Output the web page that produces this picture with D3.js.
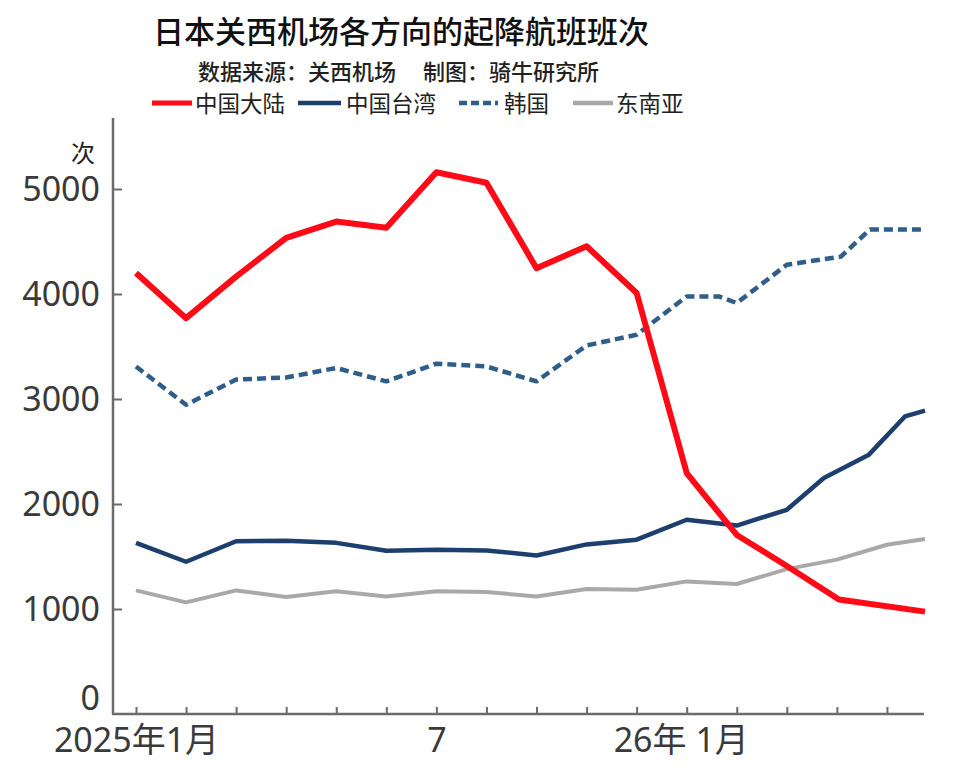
<!DOCTYPE html>
<html>
<head>
<meta charset="utf-8">
<script src="https://cdn.jsdelivr.net/npm/d3@7"></script>
<style>
  html, body { margin: 0; padding: 0; background: #ffffff; }
  svg { display: block; }
  text { font-family: "Noto Sans", "Noto Sans CJK SC", sans-serif; }
</style>
</head>
<body>
<svg id="chart" width="960" height="778"></svg>
<script>
// ---- data (x = month index, 0 = 2025-01) ----
const title = "日本关西机场各方向的起降航班班次";
const subtitle = "数据来源：关西机场　 制图：骑牛研究所";
const yUnit = "次";
const yTicks = [0, 1000, 2000, 3000, 4000, 5000];
const monthTicks = d3.range(0, 16);
const monthLabels = { 0: "2025年1月", 6: "7", 12: "26年 1月" };

const mainlandX = [0, 1, 2, 3, 4, 5, 6, 7, 8, 9, 10, 11, 12, 13, 14.04, 15.76];
const mainlandY = [4200, 3770, 4165, 4535, 4690, 4630, 5160, 5060, 4245, 4455, 4010, 2295, 1705, 1410, 1090, 975];

const taiwanX = [0, 1, 2, 3, 4, 5, 6, 7, 8, 9, 10, 11, 12, 13, 13.74, 14.64, 15.36, 15.76];
const taiwanY = [1630, 1450, 1645, 1650, 1630, 1555, 1565, 1558, 1510, 1615, 1660, 1850, 1795, 1945, 2248, 2470, 2834, 2890];

const koreaX = [0, 1, 2, 3, 4, 5, 6, 7, 8, 9, 10, 11, 11.64, 12, 13, 14.08, 14.66, 15.74];
const koreaY = [3310, 2945, 3185, 3205, 3295, 3168, 3336, 3310, 3168, 3510, 3612, 3977, 3977, 3914, 4279, 4356, 4615, 4615];

const seAsiaX = [0, 1, 2, 3, 4, 5, 6, 7, 8, 9, 10, 11, 12, 13, 14, 15, 15.76];
const seAsiaY = [1177, 1063, 1177, 1114, 1168, 1120, 1168, 1162, 1120, 1190, 1184, 1263, 1238, 1380, 1470, 1612, 1667];

const seriesNames = ["中国大陆", "中国台湾", "韩国", "东南亚"];
const seriesColors = ["#ff0a16", "#1d3f6e", "#2f5f89", "#a9a9a9"];

const series = [
  { name: seriesNames[0], color: seriesColors[0], width: 6, dash: null, pts: mainlandX.map((x, i) => [x, mainlandY[i]]) },
  { name: seriesNames[1], color: seriesColors[1], width: 4.5, dash: null, pts: taiwanX.map((x, i) => [x, taiwanY[i]]) },
  { name: seriesNames[2], color: seriesColors[2], width: 4.5, dash: "9,5", pts: koreaX.map((x, i) => [x, koreaY[i]]) },
  { name: seriesNames[3], color: seriesColors[3], width: 4, dash: null, pts: seAsiaX.map((x, i) => [x, seAsiaY[i]]) }
];
// draw order: grey, navy, dashed, red on top
const drawOrder = [3, 1, 2, 0];

// ---- layout ----
const svg = d3.select("#chart");
const axisLeftX = 113;
const axisRightX = 924;
const x = d3.scaleLinear().domain([0, 15.76]).range([136, 925]);
const y = d3.scaleLinear().domain([0, 5000]).range([714, 189]);
const yTop = 118;
const axisColor = "#6b6b6b";
const labelColor = "#3a3a3a";

// title
svg.append("text").attr("x", 153).attr("y", 29)
  .attr("dominant-baseline", "central")
  .attr("font-size", 31).attr("font-weight", 500).attr("fill", "#111")
  .style("font-family", '"Noto Sans CJK SC", sans-serif')
  .text(title);
svg.append("text").attr("x", 198).attr("y", 70)
  .attr("dominant-baseline", "central")
  .attr("font-size", 22).attr("font-weight", 500).attr("fill", "#222")
  .style("font-family", '"Noto Sans CJK SC", sans-serif')
  .text(subtitle);

// legend
const legendItems = [
  { i: 0, x1: 152, x2: 192, tx: 195 },
  { i: 1, x1: 298, x2: 341, tx: 346 },
  { i: 2, x1: 459, x2: 498, tx: 504 },
  { i: 3, x1: 573, x2: 613, tx: 616 }
];
const lg = svg.append("g");
legendItems.forEach(it => {
  const s = series[it.i];
  lg.append("line").attr("x1", it.x1).attr("x2", it.x2).attr("y1", 103).attr("y2", 103)
    .attr("stroke", s.color).attr("stroke-width", it.i === 0 ? 5 : 4.5)
    .attr("stroke-dasharray", s.dash ? "8,4" : null);
  lg.append("text").attr("x", it.tx).attr("y", 102)
    .attr("dominant-baseline", "central")
    .attr("font-size", 22.5).attr("fill", "#222")
    .style("font-family", '"Noto Sans CJK SC", sans-serif')
    .text(s.name);
});

// y axis
const yAxis = d3.axisLeft(y).tickValues(yTicks).tickSize(-9).tickPadding(13).tickFormat(d3.format("d"));
const gy = svg.append("g").attr("transform", `translate(${axisLeftX},0)`).call(yAxis);
gy.select(".domain").remove();
gy.selectAll(".tick line").attr("stroke", axisColor).attr("stroke-width", 2);
gy.selectAll(".tick text").attr("font-size", 34).attr("fill", labelColor)
  .style("font-family", '"Noto Sans", sans-serif')
  .attr("dy", d => d === 0 ? "-0.12em" : "0.35em");
gy.selectAll(".tick").filter(d => d === 0).select("line").remove();
svg.append("line").attr("x1", axisLeftX).attr("x2", axisLeftX).attr("y1", yTop).attr("y2", y(0))
  .attr("stroke", axisColor).attr("stroke-width", 2.5);
svg.append("text").attr("x", 95).attr("y", 151).attr("text-anchor", "end")
  .attr("dominant-baseline", "central")
  .attr("font-size", 24).attr("fill", "#222")
  .style("font-family", '"Noto Sans CJK SC", sans-serif')
  .text(yUnit);

// x axis
const xAxis = d3.axisBottom(x).tickValues(monthTicks).tickSize(-7).tickPadding(14)
  .tickFormat(d => monthLabels[d] || "");
const gx = svg.append("g").attr("transform", `translate(0,${y(0)})`).call(xAxis);
gx.select(".domain").remove();
gx.selectAll(".tick line").attr("stroke", axisColor).attr("stroke-width", 2);
gx.selectAll(".tick text").attr("font-size", 34).attr("fill", labelColor)
  .style("font-family", '"Noto Sans", "Noto Sans CJK SC", sans-serif')
  .attr("dx", d => d === 12 ? -56 : 0);
svg.append("line").attr("x1", axisLeftX - 1).attr("x2", axisRightX).attr("y1", y(0)).attr("y2", y(0))
  .attr("stroke", axisColor).attr("stroke-width", 2.5);

// lines
const line = d3.line().x(d => x(d[0])).y(d => y(d[1]));
const lineG = svg.append("g");
drawOrder.forEach(i => {
  const s = series[i];
  lineG.append("path").datum(s.pts)
    .attr("d", line)
    .attr("fill", "none")
    .attr("stroke", s.color)
    .attr("stroke-width", s.width)
    .attr("stroke-linejoin", "round")
    .attr("stroke-dasharray", s.dash);
});
</script>
</body>
</html>
